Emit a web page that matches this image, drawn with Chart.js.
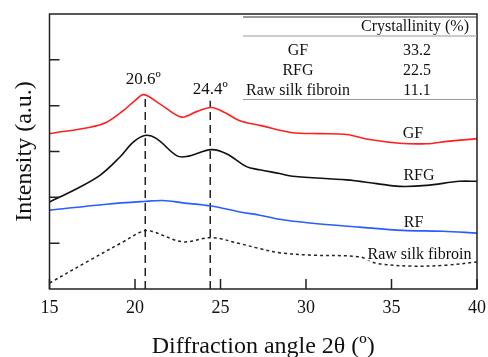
<!DOCTYPE html>
<html><head><meta charset="utf-8">
<script src="https://cdn.jsdelivr.net/npm/chart.js@4"></script>
<style>html,body{margin:0;padding:0;background:#fff}</style>
</head><body>
<canvas id="c" width="488" height="357"></canvas>
<script>
// ---- data ----
const gfX  = [15,17.37,18.34,19.31,20.0,20.52,21.45,22.72,23.6,24.47,25.25,26.13,27.3,29.22,30.8,32.38,33.72,35.47,37.05,38.22,40];
const gfY  = [3.39,3.53,3.64,3.89,4.11,4.24,4.04,3.75,3.87,3.96,3.85,3.67,3.57,3.41,3.39,3.37,3.26,3.18,3.17,3.22,3.28];
const rfgX = [15,16.39,17.95,19.12,19.88,20.58,21.26,22.43,23.01,24.47,25.35,26.52,27.3,28.46,29.22,32.38,34.13,35.47,37.05,38.98,40];
const rfgY = [1.90,2.15,2.48,2.88,3.20,3.35,3.28,2.91,2.89,3.04,2.95,2.67,2.60,2.52,2.46,2.38,2.30,2.24,2.26,2.35,2.35];
const rfX  = [15,18.34,20.52,21.63,22.8,24.47,26.13,27.3,28.46,30.22,33.14,35.65,37.99,40];
const rfY  = [1.72,1.85,1.91,1.93,1.88,1.81,1.68,1.61,1.52,1.44,1.35,1.28,1.26,1.22];
const rawX = [15,17.37,19.31,20.52,21.05,22.8,24.47,26.13,27.3,28.46,30.22,33.14,34.13,36.23,38.22,40];
const rawY = [0.13,0.63,1.03,1.27,1.25,1.03,1.12,0.99,0.88,0.79,0.74,0.70,0.56,0.50,0.52,0.59];
const peakAngles = [20.6, 24.4];
const peakTops   = [4.22, 4.11];
const peakLabels = ['20.6º', '24.4º'];
const xTicks = [15,20,25,30,35,40];
const tableHeader = 'Crystallinity (%)';
const tableSamples = ['GF','RFG','Raw silk fibroin'];
const tableValues  = ['33.2','22.5','11.1'];
const seriesNames  = ['GF','RFG','RF','Raw silk fibroin'];

const SERIF = '"Liberation Serif","Times New Roman",serif';
const pts = (xs, ys) => xs.map((x, i) => ({x, y: ys[i]}));

const datasets = [
  {label:'GF', data:pts(gfX,gfY), borderColor:'#ff2020', borderWidth:1.6},
  {label:'RFG', data:pts(rfgX,rfgY), borderColor:'#111111', borderWidth:1.6},
  {label:'RF', data:pts(rfX,rfY), borderColor:'#2b5cff', borderWidth:1.6},
  {label:'Raw silk fibroin', data:pts(rawX,rawY), borderColor:'#222222', borderWidth:1.5, borderDash:[3,3]},
].map(d => Object.assign(d, {pointRadius:0, tension:0.35, fill:false}));

peakAngles.forEach((a, i) => {
  datasets.push({label:'peak'+i, data:[{x:a,y:0},{x:a,y:peakTops[i]}], borderColor:'#222',
    borderWidth:1.5, borderDash:[8,5], pointRadius:0, fill:false});
});

const overlay = {
  id:'overlay',
  afterDatasetsDraw(chart) {
    const {ctx, chartArea:a, scales:{x, y}} = chart;
    ctx.save();
    // inward ticks
    ctx.strokeStyle = '#222'; ctx.lineWidth = 1.5;
    ctx.beginPath();
    xTicks.forEach(v => { const px = x.getPixelForValue(v); ctx.moveTo(px, a.bottom); ctx.lineTo(px, a.bottom - 10); });
    for (let v = 1; v <= 5; v++) { const py = y.getPixelForValue(v); ctx.moveTo(a.left, py); ctx.lineTo(a.left + 10, py); }
    ctx.stroke();
    // frame
    ctx.strokeRect(a.left, a.top, a.right - a.left, a.bottom - a.top);

    // peak labels
    ctx.fillStyle = '#111';
    ctx.textAlign = 'center'; ctx.textBaseline = 'middle';
    ctx.font = '17px ' + SERIF;
    const dx = [-2, 0], dy = [-16, -11];
    peakAngles.forEach((p, i) => {
      ctx.fillText(peakLabels[i], x.getPixelForValue(p) + dx[i], y.getPixelForValue(peakTops[i]) + dy[i]);
    });

    // curve labels
    ctx.font = '16px ' + SERIF;
    const lp = [[413,134],[419,176],[413.5,222.5],[419.5,254.5]];
    seriesNames.forEach((n, i) => {
      ctx.fillStyle = '#fff';
      if (i === 3) { const w = ctx.measureText(n).width; ctx.fillRect(lp[i][0]-w/2-1, lp[i][1]-6, w+2, 12); }
      ctx.fillStyle = '#111';
      ctx.fillText(n, lp[i][0], lp[i][1]);
    });

    // table
    ctx.fillStyle = '#fff';
    ctx.fillRect(243, 16, a.right - 243 - 1, 84);
    ctx.strokeStyle = '#333'; ctx.lineWidth = 1.2;
    ctx.beginPath(); ctx.moveTo(243, 17); ctx.lineTo(a.right, 17); ctx.stroke();
    ctx.strokeStyle = '#999'; ctx.lineWidth = 1.2;
    ctx.beginPath(); ctx.moveTo(243, 36); ctx.lineTo(a.right, 36);
    ctx.moveTo(243, 99.5); ctx.lineTo(a.right, 99.5); ctx.stroke();
    ctx.fillStyle = '#111';
    ctx.font = '16px ' + SERIF;
    ctx.fillText(tableHeader, 415, 27);
    const rowY = [51, 71, 91];
    tableSamples.forEach((s, i) => {
      ctx.fillText(s, 298, rowY[i]);
      ctx.fillText(tableValues[i], 417, rowY[i]);
    });
    ctx.restore();
  }
};

new Chart(document.getElementById('c'), {
  type:'line',
  data:{datasets},
  options:{
    responsive:false, animation:false, devicePixelRatio:1,
    layout:{padding:{top:14, right:11, left:0, bottom:0}},
    plugins:{legend:{display:false}, tooltip:{enabled:false}},
    scales:{
      x:{type:'linear', min:15, max:40,
         afterBuildTicks(s){ s.ticks = xTicks.map(v => ({value:v})); },
         afterFit(s){ s.height = 68; s.paddingLeft = 0; s.paddingRight = 0; },
         ticks:{padding:8, color:'#111', font:{family:SERIF, size:18}},
         grid:{drawOnChartArea:false, drawTicks:false}, border:{display:false},
         title:{display:true, text:'Diffraction angle 2θ (º)', color:'#111',
                font:{family:SERIF, size:24, lineHeight:1}, padding:{top:0, bottom:-2}}},
      y:{type:'linear', min:0, max:6,
         afterFit(s){ s.width = 49.5; s.paddingTop = 0; s.paddingBottom = 0; },
         ticks:{display:false, stepSize:1},
         grid:{drawOnChartArea:false, drawTicks:false}, border:{display:false},
         title:{display:true, text:'Intensity (a.u.)', color:'#111',
                font:{family:SERIF, size:24, lineHeight:1}, padding:{top:13, bottom:0}}}
    }
  },
  plugins:[overlay]
});
</script>
</body></html>
